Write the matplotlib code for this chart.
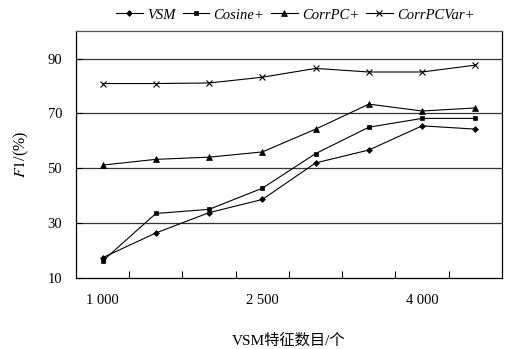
import matplotlib
matplotlib.use('Agg')
import matplotlib.pyplot as plt
import numpy as np

# Data
categories = ['1 000', '', '', '2 500', '', '', '4 000', '']
vsm = [17.5, 26.5, 33.9, 38.7, 52.0, 56.7, 65.5, 64.3]
cosine = [16.3, 33.6, 35.1, 42.8, 55.4, 65.0, 68.2, 68.2]
corrpc = [51.2, 53.3, 54.1, 56.0, 64.3, 73.4, 70.9, 72.0]
corrpcvar = [80.9, 80.9, 81.1, 83.2, 86.4, 85.1, 85.1, 87.6]
series_names = ['VSM', 'Cosine+', 'CorrPC+', 'CorrPCVar+']
y_ticks = [10, 30, 50, 70, 90]

serif = 'Liberation Serif'
plt.rcParams['font.family'] = [serif, 'Noto Sans CJK SC']
plt.rcParams['mathtext.fontset'] = 'stix'

fig = plt.figure(figsize=(5.05, 3.49), dpi=100)
ax = fig.add_axes([0.1505, 0.2026, 0.8435, 0.7084])

x = np.arange(len(categories))
styles = [('D', 3), ('s', 3.5), ('^', 4), ('x', 5)]
for vals, name, (mk, ms) in zip([vsm, cosine, corrpc, corrpcvar], series_names, styles):
    ax.plot(x, vals, color='black', linewidth=0.8, marker=mk, markersize=ms,
            markeredgewidth=0.8 if mk == 'x' else 0.5, label=name)

ax.set_xlim(-0.5, len(categories) - 0.5)
ax.set_ylim(10, 100)
ax.set_yticks(y_ticks)
ax.set_yticklabels([str(v) for v in y_ticks], fontsize=10.5)

# category axis: ticks between categories, labels at centres
ax.set_xticks(np.arange(0.5, len(categories) - 1, 1.0))
ax.set_xticklabels([])
ax.set_xticks(x, minor=True)
ax.set_xticklabels(categories, minor=True, fontsize=10.5)
ax.tick_params(axis='x', which='major', direction='in', length=5, width=0.8)
ax.tick_params(axis='x', which='minor', length=0, pad=11)
ax.tick_params(axis='y', direction='in', length=4, width=0.8, pad=10)

for v in [30, 50, 70, 90]:
    ax.axhline(v, color='#333333', linewidth=0.9, zorder=0)
for s in ax.spines.values():
    s.set_linewidth(0.9)
ax.spines['top'].set_color('#555555')

ax.set_ylabel('$\\mathit{F1}$/(%)', fontsize=11.5, labelpad=12)
ax.set_xlabel('VSM特征数目/个', fontsize=11, labelpad=19)

ax.legend(loc='center', bbox_to_anchor=(0.515, 1.065), ncol=4, frameon=False,
          prop={'family': serif, 'style': 'italic', 'size': 10.5},
          handlelength=1.8, handletextpad=0.3, columnspacing=0.5, borderaxespad=0)

fig.savefig('out.png', dpi=100)
